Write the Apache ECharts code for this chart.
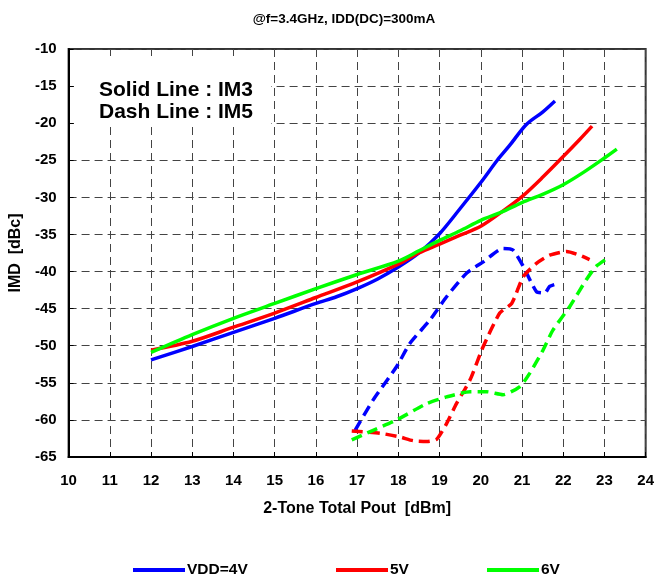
<!DOCTYPE html>
<html>
<head>
<meta charset="utf-8">
<script src="https://cdn.jsdelivr.net/npm/echarts@6/dist/echarts.min.js"></script>
<style>
  html, body { margin: 0; padding: 0; background: #fff; }
  #chart { width: 657px; height: 582px; }
</style>
</head>
<body>
<div id="chart"></div>
<script>
// x = 2-tone total Pout [dBm], y = IMD [dBc]
var im3_4v = [[12,-51.9],[13,-50.1],[14,-48.2],[15,-46.3],[16,-44.3],[16.5,-43.4],[17,-42.3],[17.5,-41],[18,-39.4],[18.5,-37.5],[19,-34.9],[19.5,-31.5],[20,-28],[20.4,-25],[20.7,-23],[21.1,-20.2],[21.5,-18.5],[21.8,-17]];
var im3_5v = [[12,-50.6],[13,-49.4],[14,-47.5],[15,-45.6],[16,-43.5],[17,-41.4],[18,-39.0],[18.5,-37.5],[19,-36.3],[19.5,-35.1],[20,-33.9],[20.5,-32],[21,-29.9],[21.5,-27.3],[22,-24.5],[22.4,-22.2],[22.7,-20.4]];
var im3_6v = [[12,-50.9],[13,-48.5],[14,-46.3],[15,-44.3],[16,-42.3],[17,-40.4],[18,-38.6],[18.5,-37.2],[19,-35.8],[19.5,-34.5],[20,-33.1],[20.5,-32],[21,-30.7],[21.5,-29.6],[22,-28.3],[22.5,-26.6],[23,-24.7],[23.3,-23.5]];

var im5_4v = [[16.95,-61.4],[17.39,-57.3],[17.96,-52.8],[18.28,-49.7],[18.77,-46.5],[19.17,-43.4],[19.66,-40.2],[20.06,-38.7],[20.54,-36.9],[20.78,-37.1],[21.03,-39.3],[21.35,-42.7],[21.55,-42.9],[21.67,-42.0],[21.82,-41.7]];
var im5_5v = [[16.87,-61.5],[17.56,-61.8],[18.04,-62.3],[18.36,-62.8],[18.69,-62.9],[18.93,-62.6],[19.17,-60.5],[19.41,-57.8],[19.74,-54.6],[20.06,-50.1],[20.46,-45.6],[20.75,-44.3],[21.03,-40.7],[21.35,-38.9],[21.67,-37.8],[22.08,-37.3],[22.4,-37.8],[22.64,-38.4]];
var im5_6v = [[16.87,-62.7],[17.39,-61.4],[17.96,-60.0],[18.69,-57.8],[19.17,-56.9],[19.74,-56.2],[20.14,-56.2],[20.54,-56.6],[20.95,-55.5],[21.19,-53.7],[21.51,-50.6],[21.75,-47.9],[22.16,-44.7],[22.56,-41.1],[22.8,-39.3],[23.13,-38.0]];

var names = ['VDD=4V', '5V', '6V'];
var colors = ['#0000ff', '#ff0000', '#00ff00'];
var legendLeft = [128, 331, 482];

var font = '"Liberation Sans", Arial, sans-serif';
var chart = echarts.init(document.getElementById('chart'));

function solid(name, data, color) {
    return {
        name: name, type: 'line', data: data, symbol: 'none', smooth: 0.3,
        lineStyle: { color: color, width: 3.5 }, itemStyle: { color: color },
        z: 3
    };
}
function dashed(name, data, color) {
    return {
        name: name + ' IM5', type: 'line', data: data, symbol: 'none', smooth: 0.2,
        lineStyle: { color: color, width: 3.5, type: [11, 6] }, itemStyle: { color: color },
        z: 3
    };
}

// one legend per item so each sits where the original puts it
var legends = names.map(function (n, i) {
    return {
        data: [{ name: n, icon: 'rect', itemStyle: { color: colors[i] } }],
        left: legendLeft[i], top: 557,
        itemWidth: 52, itemHeight: 4,
        textStyle: { fontSize: 15.5, fontWeight: 'bold', color: '#000', fontFamily: font, padding: [0, 0, 0, -3] }
    };
});

chart.setOption({
    animation: false,
    textStyle: { fontFamily: font },
    title: {
        text: '@f=3.4GHz, IDD(DC)=300mA',
        left: 339, top: 7, textAlign: 'center',
        textStyle: { fontSize: 13.5, fontWeight: 'bold', color: '#000', fontFamily: font }
    },
    grid: {
        left: 68, right: 11, top: 49, bottom: 125,
        show: true, borderColor: '#333', borderWidth: 2
    },
    legend: legends,
    xAxis: {
        type: 'value', min: 10, max: 24, interval: 1,
        name: '2-Tone Total Pout  [dBm]', nameLocation: 'middle', nameGap: 44,
        nameTextStyle: { fontSize: 16, fontWeight: 'bold', color: '#000', fontFamily: font },
        axisLine: { lineStyle: { color: '#000', width: 2 } },
        axisTick: { inside: true, length: 5, lineStyle: { color: '#000' } },
        axisLabel: { fontSize: 15, fontWeight: 'bold', color: '#000', margin: 16, fontFamily: font },
        splitLine: { show: true, lineStyle: { color: '#444', width: 1, type: [8, 5] } }
    },
    yAxis: {
        type: 'value', min: -65, max: -10, interval: 5,
        name: 'IMD  [dBc]', nameLocation: 'middle', nameGap: 44, nameRotate: 90,
        nameTextStyle: { fontSize: 16, fontWeight: 'bold', color: '#000', fontFamily: font },
        axisLine: { show: true, lineStyle: { color: '#000', width: 2 } },
        axisTick: { show: true, inside: true, length: 5, lineStyle: { color: '#000' } },
        axisLabel: { fontSize: 15, fontWeight: 'bold', color: '#000', margin: 12, fontFamily: font },
        splitLine: { show: true, lineStyle: { color: '#444', width: 1, type: [8, 5] } }
    },
    graphic: [
        // white box behind the note hides the grid there
        { type: 'rect', z: 1, shape: { x: 74, y: 56, width: 197, height: 71 }, style: { fill: '#fff' } },
        { type: 'text', z: 2, left: 99, top: 80, style: { text: 'Solid Line : IM3', font: 'bold 21px ' + font, fill: '#000' } },
        { type: 'text', z: 2, left: 99, top: 102, style: { text: 'Dash Line : IM5', font: 'bold 21px ' + font, fill: '#000' } }
    ],
    series: [
        solid(names[0], im3_4v, colors[0]),
        solid(names[1], im3_5v, colors[1]),
        solid(names[2], im3_6v, colors[2]),
        dashed(names[0], im5_4v, colors[0]),
        dashed(names[1], im5_5v, colors[1]),
        dashed(names[2], im5_6v, colors[2])
    ]
});
</script>
</body>
</html>
